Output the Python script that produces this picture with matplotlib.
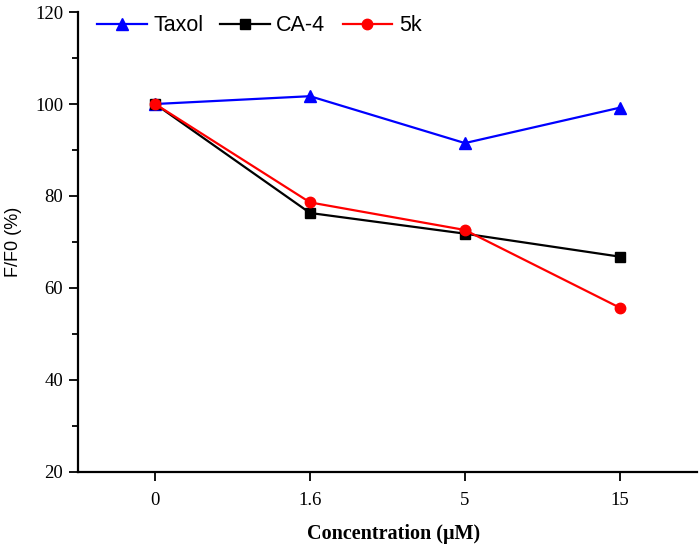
import numpy as np
import matplotlib
matplotlib.use("Agg")
import matplotlib.pyplot as plt
from matplotlib.ticker import MultipleLocator

# data
conc_labels = ["0", "1.6", "5", "15"]
taxol = [100.0, 101.7, 91.5, 99.2]
ca4 = [100.0, 76.3, 71.8, 66.8]
k5 = [100.0, 78.6, 72.6, 55.7]

fig = plt.figure(figsize=(7.0, 5.48), dpi=100)
ax = fig.add_axes([0.111, 0.139, 0.885, 0.839])

x = np.arange(len(conc_labels))
ax.plot(x, taxol, color="blue", marker="^", markersize=9, lw=1.6, label="Taxol")
ax.plot(x, ca4, color="black", marker="s", markersize=6.5, lw=1.6, label="CA-4")
ax.plot(x, k5, color="red", marker="o", markersize=7.5, lw=1.6, label="5k")

ax.set_xlim(-0.5, 3.5)
ax.set_ylim(20, 120)
ax.set_xticks(x)
ax.set_xticklabels(conc_labels)
ax.yaxis.set_major_locator(MultipleLocator(20))
ax.yaxis.set_minor_locator(MultipleLocator(10))

for s in ("top", "right"):
    ax.spines[s].set_visible(False)
for s in ("left", "bottom"):
    ax.spines[s].set_linewidth(1.6)

ax.tick_params(axis="both", which="major", direction="out", length=6.5, width=1.3,
               labelsize=13.5)
ax.tick_params(axis="x", which="major", pad=8)
ax.tick_params(axis="y", which="major", pad=4)
ax.tick_params(axis="y", which="minor", direction="out", length=4, width=1.3)
for lab in ax.get_xticklabels() + ax.get_yticklabels():
    lab.set_family("Liberation Serif")

ax.set_xlabel("Concentration (μM)", family="Liberation Serif", fontweight="bold",
              fontsize=14.5)
ax.xaxis.set_label_coords(0.51, -0.113)
ax.set_ylabel("F/F0 (%)", family="Liberation Sans", fontsize=13)
ax.yaxis.set_label_coords(-0.09, 0.5)

ax.legend(loc="upper left", bbox_to_anchor=(0.0, 1.035), ncol=3, frameon=False,
          prop={"family": "Liberation Sans", "size": 15.5}, handlelength=2.3,
          columnspacing=0.8, handletextpad=0.3)

fig.savefig("out.png", dpi=100)
